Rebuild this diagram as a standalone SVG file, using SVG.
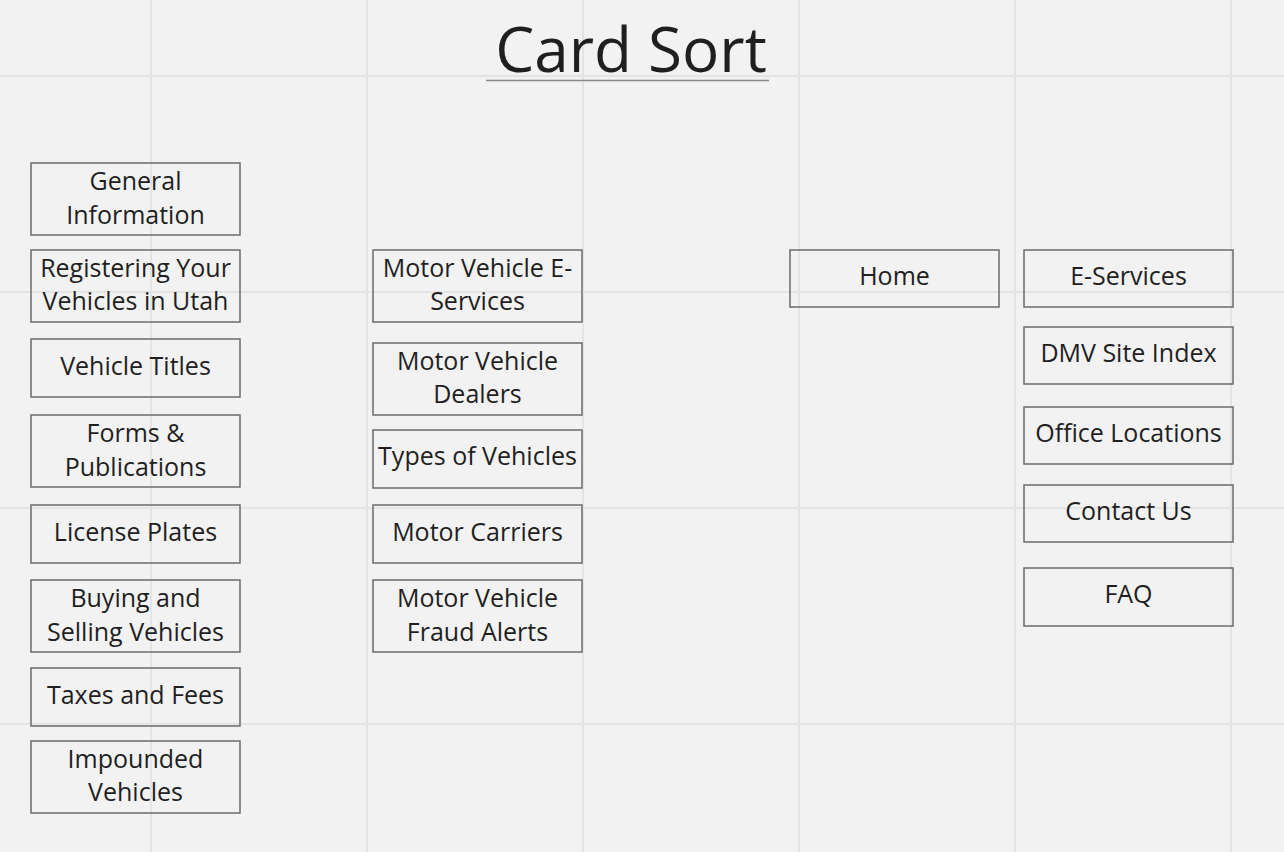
<svg xmlns="http://www.w3.org/2000/svg" width="1284" height="852" viewBox="0 0 1284 852">
<style>
.grid line{stroke:#e4e4e4;stroke-width:2}
.card rect{fill:none;stroke:#6b6b6b;stroke-width:1.5}
.card text{font-family:"Open Sans","Noto Sans",sans-serif;font-size:25px;fill:#1f1f1f;text-anchor:middle}
.title{font-family:"Open Sans","Noto Sans",sans-serif;font-size:62px;fill:#1f1f1f;text-anchor:middle}
</style>
<rect width="1284" height="852" fill="#f2f2f2"/>
<g class="grid">
<line x1="151" y1="0" x2="151" y2="852"/><line x1="367" y1="0" x2="367" y2="852"/><line x1="583" y1="0" x2="583" y2="852"/><line x1="799" y1="0" x2="799" y2="852"/><line x1="1015" y1="0" x2="1015" y2="852"/><line x1="1231" y1="0" x2="1231" y2="852"/>
<line x1="0" y1="76" x2="1284" y2="76"/><line x1="0" y1="292" x2="1284" y2="292"/><line x1="0" y1="508" x2="1284" y2="508"/><line x1="0" y1="724" x2="1284" y2="724"/>
</g>
<g id="title"><text class="title" x="631" y="72">Card Sort</text><line x1="486" y1="80.5" x2="769" y2="80.5" stroke="#8a8a8a" stroke-width="1.5"/></g>
<g id="connectors"/>
<g id="n1" class="card"><rect x="31" y="163" width="209" height="72"/><text x="135.5" y="190">General</text><text x="135.5" y="224">Information</text></g>
<g id="n2" class="card"><rect x="31" y="250" width="209" height="72"/><text x="135.5" y="277">Registering Your</text><text x="135.5" y="310">Vehicles in Utah</text></g>
<g id="n3" class="card"><rect x="31" y="339" width="209" height="58"/><text x="135.5" y="375">Vehicle Titles</text></g>
<g id="n4" class="card"><rect x="31" y="415" width="209" height="72"/><text x="135.5" y="442">Forms &amp;</text><text x="135.5" y="476">Publications</text></g>
<g id="n5" class="card"><rect x="31" y="505" width="209" height="58"/><text x="135.5" y="541">License Plates</text></g>
<g id="n6" class="card"><rect x="31" y="580" width="209" height="72"/><text x="135.5" y="607">Buying and</text><text x="135.5" y="641">Selling Vehicles</text></g>
<g id="n7" class="card"><rect x="31" y="668" width="209" height="58"/><text x="135.5" y="704">Taxes and Fees</text></g>
<g id="n8" class="card"><rect x="31" y="741" width="209" height="72"/><text x="135.5" y="768">Impounded</text><text x="135.5" y="801">Vehicles</text></g>
<g id="m1" class="card"><rect x="373" y="250" width="209" height="72"/><text x="477.5" y="277">Motor Vehicle E-</text><text x="477.5" y="310">Services</text></g>
<g id="m2" class="card"><rect x="373" y="343" width="209" height="72"/><text x="477.5" y="370">Motor Vehicle</text><text x="477.5" y="403">Dealers</text></g>
<g id="m3" class="card"><rect x="373" y="430" width="209" height="58"/><text x="477.5" y="465">Types of Vehicles</text></g>
<g id="m4" class="card"><rect x="373" y="505" width="209" height="58"/><text x="477.5" y="541">Motor Carriers</text></g>
<g id="m5" class="card"><rect x="373" y="580" width="209" height="72"/><text x="477.5" y="607">Motor Vehicle</text><text x="477.5" y="641">Fraud Alerts</text></g>
<g id="home" class="card"><rect x="790" y="250" width="209" height="57"/><text x="894.5" y="285">Home</text></g>
<g id="r1" class="card"><rect x="1024" y="250" width="209" height="57"/><text x="1128.5" y="285">E-Services</text></g>
<g id="r2" class="card"><rect x="1024" y="327" width="209" height="57"/><text x="1128.5" y="362">DMV Site Index</text></g>
<g id="r3" class="card"><rect x="1024" y="407" width="209" height="57"/><text x="1128.5" y="442">Office Locations</text></g>
<g id="r4" class="card"><rect x="1024" y="485" width="209" height="57"/><text x="1128.5" y="520">Contact Us</text></g>
<g id="r5" class="card"><rect x="1024" y="568" width="209" height="58"/><text x="1128.5" y="603">FAQ</text></g>
</svg>
